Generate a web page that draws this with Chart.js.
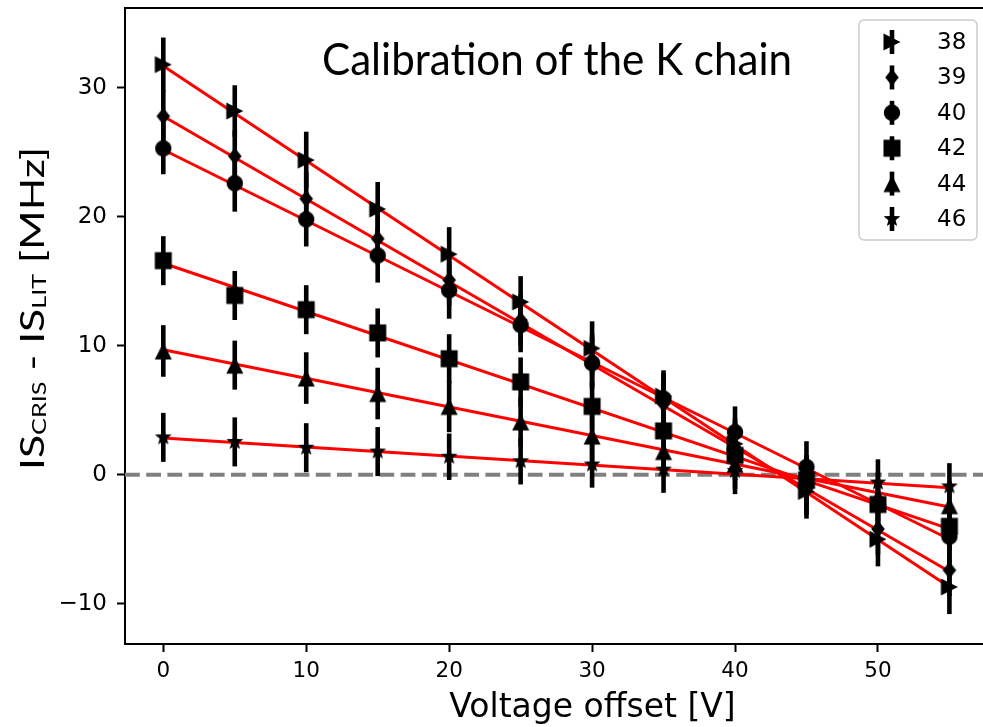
<!DOCTYPE html>
<html>
<head>
<meta charset="utf-8">
<script src="https://cdn.jsdelivr.net/npm/chart.js@4.4.1/dist/chart.umd.min.js"></script>
<style>
  html, body { margin: 0; padding: 0; background: #fff; overflow: hidden; }
  #wrap { width: 983px; height: 727px; position: relative; }
  canvas { display: block; }
</style>
</head>
<body>
<div id="wrap"><canvas id="chart"></canvas></div>
<script>
// voltage offsets [V] and the isotopes of the K chain
const voltages = [0, 5, 10, 15, 20, 25, 30, 35, 40, 45, 50, 55];
const isotopes = ['38', '39', '40', '42', '44', '46'];

// IS_CRIS - IS_LIT [MHz]
const shift38 = [31.8, 28.2, 24.4, 20.6, 17.1, 13.4, 9.8, 6.1, 2.4, -1.3, -5.0, -8.7];
const shift39 = [27.8, 24.7, 21.4, 18.3, 15.1, 12.0, 8.9, 5.5, 2.1, -1.1, -4.2, -7.4];
const shift40 = [25.3, 22.6, 19.8, 17.0, 14.3, 11.6, 8.65, 5.9, 3.3, 0.6, -2.3, -4.8];
const shift42 = [16.6, 13.9, 12.8, 11.0, 9.0, 7.2, 5.3, 3.4, 1.5, -0.4, -2.3, -4.0];
const shift44 = [9.6, 8.5, 7.5, 6.3, 5.3, 4.1, 3.0, 1.8, 0.8, -0.4, -1.7, -2.4];
const shift46 = [2.9, 2.55, 2.1, 1.8, 1.4, 1.05, 0.8, 0.4, 0.3, -0.3, -0.6, -0.9];

// error bars (+/-) [MHz]
const err38 = [2.1, 2.0, 2.2, 2.1, 2.1, 2.0, 2.1, 2.0, 2.0, 2.1, 2.1, 2.1];
const err39 = [2.0, 2.0, 2.1, 2.0, 2.0, 2.0, 2.0, 2.0, 2.0, 2.0, 2.0, 2.0];
const err40 = [2.0, 2.2, 2.1, 2.1, 2.2, 2.1, 2.0, 2.0, 2.0, 2.0, 2.0, 2.0];
const err42 = [1.9, 1.9, 1.9, 1.9, 1.9, 1.9, 1.9, 1.9, 1.9, 1.9, 1.9, 1.9];
const err44 = [2.0, 1.9, 2.0, 2.0, 2.0, 1.9, 1.9, 1.9, 1.9, 1.9, 1.9, 1.9];
const err46 = [1.9, 1.9, 1.9, 1.9, 1.8, 1.8, 1.8, 1.8, 1.8, 1.8, 1.8, 1.8];

// linear fits: value at start and end of the fitted range
const fitRange = [0, 55];
const fitStart = [31.7, 27.8, 25.2, 16.4, 9.7, 2.85];
const fitEnd = [-8.7, -7.5, -5.0, -4.2, -2.5, -1.0];

const xTicks = [0, 10, 20, 30, 40, 50];
const yTicks = [-10, 0, 10, 20, 30];

const shifts = [shift38, shift39, shift40, shift42, shift44, shift46];
const errors = [err38, err39, err40, err42, err44, err46];
const markerKinds = ['tri_right', 'thin_diamond', 'circle', 'square', 'tri_up', 'star'];

function makeMarker(kind, withBar) {
    const size = 30;
    const c = document.createElement('canvas');
    c.width = size;
    c.height = size;
    const g = c.getContext('2d');
    g.translate(size / 2, size / 2);
    g.fillStyle = '#000';
    if (withBar) g.fillRect(-2.3, -12, 4.6, 24);
    g.beginPath();
    switch (kind) {
        case 'tri_right':
            g.moveTo(8.5, 0); g.lineTo(-8.5, -8.5); g.lineTo(-8.5, 8.5);
            break;
        case 'thin_diamond':
            g.moveTo(0, -8.5); g.lineTo(6.8, 0); g.lineTo(0, 8.5); g.lineTo(-6.8, 0);
            break;
        case 'circle':
            g.arc(0, 0, 8.2, 0, Math.PI * 2);
            break;
        case 'square':
            g.rect(-8.5, -8.5, 17, 17);
            break;
        case 'tri_up':
            g.moveTo(0, -8.5); g.lineTo(8.5, 8.5); g.lineTo(-8.5, 8.5);
            break;
        case 'star':
            for (let i = 0; i < 10; i++) {
                const r = i % 2 === 0 ? 8.8 : 3.8;
                const a = -Math.PI / 2 + i * Math.PI / 5;
                if (i === 0) g.moveTo(r * Math.cos(a), r * Math.sin(a));
                else g.lineTo(r * Math.cos(a), r * Math.sin(a));
            }
            break;
    }
    g.closePath();
    g.fill();
    return c;
}

const markers = markerKinds.map(k => makeMarker(k, false));
const legendMarkers = markerKinds.map(k => makeMarker(k, true));

const pointSets = isotopes.map((iso, k) => ({
    label: iso,
    data: voltages.map((v, i) => ({ x: v, y: shifts[k][i] })),
    errors: errors[k],
    pointStyle: markers[k],
    pointRadius: 8,
    showLine: false,
    order: 1
}));

const fitSets = isotopes.map((iso, k) => ({
    label: 'fit ' + iso,
    data: fitRange.map((v, j) => ({ x: v, y: j === 0 ? fitStart[k] : fitEnd[k] })),
    showLine: true,
    borderColor: '#ff0000',
    borderWidth: 3,
    pointRadius: 0,
    order: 2
}));

function drawFitted(ctx, text, font, x, y, width) {
    ctx.font = font;
    const w = ctx.measureText(text).width;
    ctx.save();
    ctx.translate(x, y);
    ctx.scale(width / w, 1);
    ctx.fillText(text, 0, 0);
    ctx.restore();
}

const decorations = {
    id: 'decorations',
    beforeDatasetsDraw(chart) {
        const { ctx, chartArea, scales } = chart;
        const y0 = scales.y.getPixelForValue(0);
        ctx.save();
        ctx.strokeStyle = '#808080';
        ctx.lineWidth = 4;
        ctx.setLineDash([14.8, 6.4]);
        ctx.beginPath();
        ctx.moveTo(chartArea.left, y0);
        ctx.lineTo(chartArea.right, y0);
        ctx.stroke();
        ctx.restore();
    },
    beforeDatasetDraw(chart, args) {
        const ds = chart.data.datasets[args.index];
        if (!ds.errors) return;
        const { ctx, scales } = chart;
        ctx.save();
        ctx.strokeStyle = '#000';
        ctx.lineWidth = 4.6;
        ds.data.forEach((p, i) => {
            const x = scales.x.getPixelForValue(p.x);
            ctx.beginPath();
            ctx.moveTo(x, scales.y.getPixelForValue(p.y + ds.errors[i]));
            ctx.lineTo(x, scales.y.getPixelForValue(p.y - ds.errors[i]));
            ctx.stroke();
        });
        ctx.restore();
    },
    afterDraw(chart) {
        const { ctx, chartArea } = chart;
        ctx.save();
        // top spine
        ctx.strokeStyle = '#000';
        ctx.lineWidth = 2;
        ctx.beginPath();
        ctx.moveTo(chartArea.left - 1, chartArea.top);
        ctx.lineTo(chartArea.right, chartArea.top);
        ctx.stroke();

        ctx.fillStyle = '#000';
        ctx.textBaseline = 'alphabetic';
        ctx.textAlign = 'left';

        // title
        drawFitted(ctx, 'Calibration of the K chain', '45px Lato', 322, 75, 470);

        // x axis title
        ctx.font = '33px "DejaVu Sans"';
        ctx.textAlign = 'center';
        ctx.fillText('Voltage offset [V]', 592.5, 717);

        // y axis title with subscripts
        const parts = [
            { t: 'IS', sub: false }, { t: 'CRIS', sub: true },
            { t: ' - IS', sub: false }, { t: 'LIT', sub: true },
            { t: ' [MHz]', sub: false }
        ];
        const mainFont = '32px Lato', subFont = '19px Lato';
        let total = 0;
        parts.forEach(p => {
            ctx.font = p.sub ? subFont : mainFont;
            p.w = ctx.measureText(p.t).width;
            total += p.w;
        });
        ctx.textAlign = 'left';
        ctx.save();
        ctx.translate(44, 470);
        ctx.rotate(-Math.PI / 2);
        ctx.scale(323 / total, 1);
        let cx = 0;
        parts.forEach(p => {
            ctx.font = p.sub ? subFont : mainFont;
            ctx.fillText(p.t, cx, p.sub ? 2 : 0);
            cx += p.w;
        });
        ctx.restore();

        // legend
        const lx = 859, ly = 20, lw = 118, lh = 220;
        ctx.beginPath();
        ctx.roundRect(lx, ly, lw, lh, 5);
        ctx.fillStyle = 'rgba(255,255,255,0.8)';
        ctx.fill();
        ctx.strokeStyle = '#cccccc';
        ctx.lineWidth = 1.5;
        ctx.stroke();
        ctx.fillStyle = '#000';
        ctx.font = '23px "DejaVu Sans"';
        ctx.textBaseline = 'middle';
        isotopes.forEach((iso, k) => {
            const ey = ly + 22 + k * 35.4;
            const m = legendMarkers[k];
            ctx.drawImage(m, 892 - m.width / 2, ey - m.height / 2);
            ctx.fillText(iso, 937, ey + 1);
        });
        ctx.restore();
    }
};

const tickMinus = v => (v < 0 ? '\u2212' + Math.abs(v) : String(v));

new Chart(document.getElementById('chart'), {
    type: 'scatter',
    data: { datasets: pointSets.concat(fitSets) },
    options: {
        responsive: true,
        maintainAspectRatio: false,
        animation: false,
        events: [],
        layout: { autoPadding: false, padding: { top: 8, right: 0, left: 0, bottom: 0 } },
        plugins: { legend: { display: false }, tooltip: { enabled: false } },
        scales: {
            x: {
                type: 'linear',
                min: -2.68,
                max: 57.35,
                afterBuildTicks: s => { s.ticks = xTicks.map(v => ({ value: v })); },
                afterFit: s => { s.height = 83; s.paddingLeft = 0; s.paddingRight = 0; },
                ticks: {
                    font: { family: 'DejaVu Sans', size: 21.5 },
                    color: '#000',
                    padding: 7,
                    maxRotation: 0,
                    autoSkip: false,
                    callback: tickMinus
                },
                grid: { drawOnChartArea: false, tickLength: 8, tickWidth: 2, tickColor: '#000' },
                border: { color: '#000', width: 2 }
            },
            y: {
                type: 'linear',
                min: -13.12,
                max: 36.19,
                afterBuildTicks: s => { s.ticks = yTicks.map(v => ({ value: v })); },
                afterFit: s => { s.width = 125; s.paddingTop = 0; s.paddingBottom = 0; },
                ticks: {
                    font: { family: 'DejaVu Sans', size: 23 },
                    color: '#000',
                    padding: 10,
                    autoSkip: false,
                    callback: tickMinus
                },
                grid: { drawOnChartArea: false, tickLength: 8, tickWidth: 2, tickColor: '#000' },
                border: { color: '#000', width: 2 }
            }
        }
    },
    plugins: [decorations]
});
</script>
</body>
</html>
